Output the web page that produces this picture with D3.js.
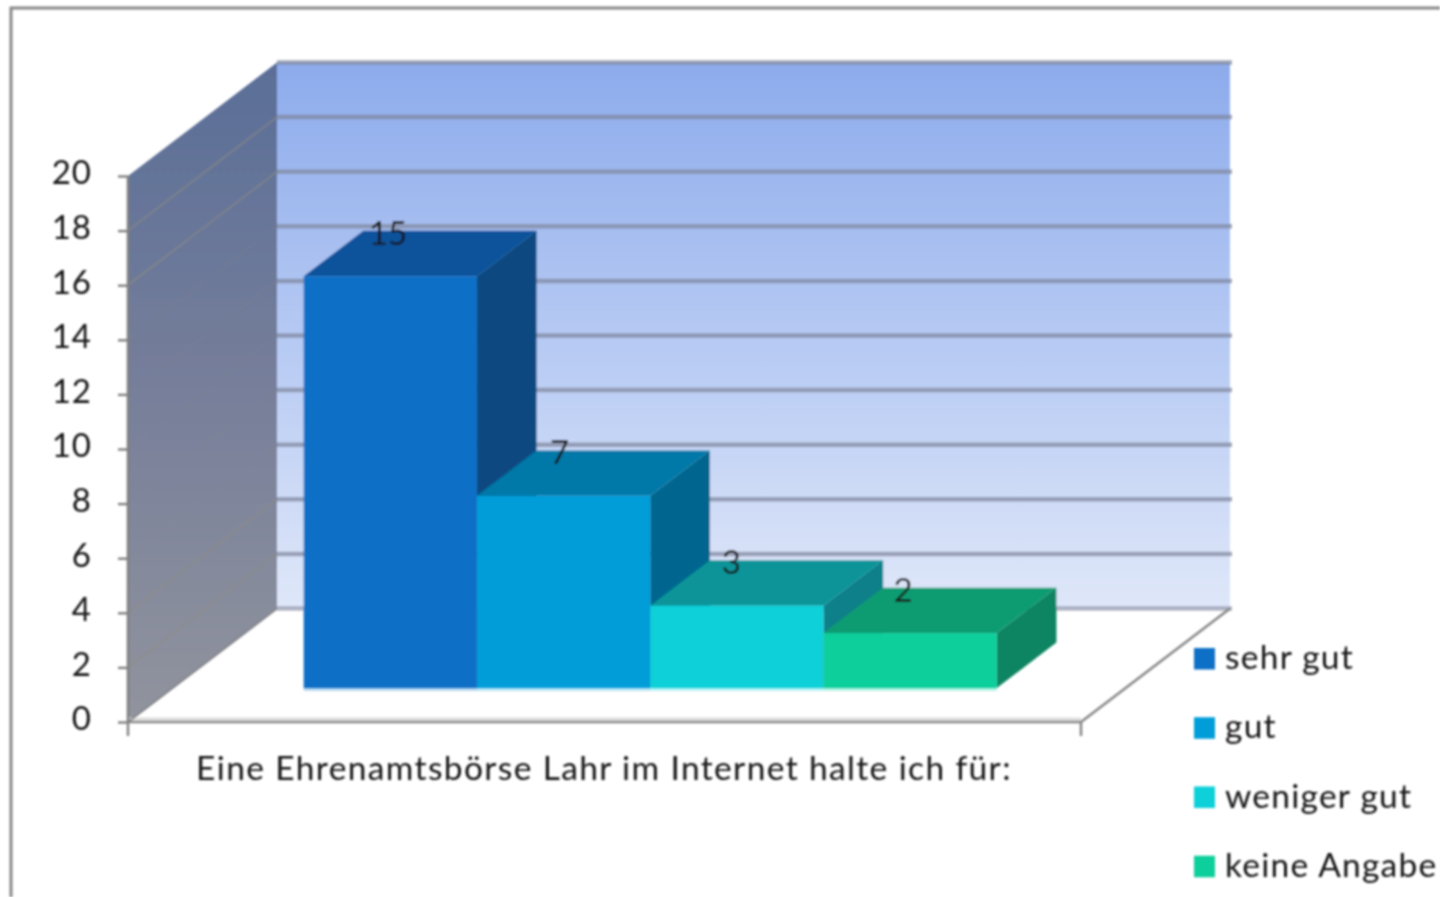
<!DOCTYPE html>
<html><head><meta charset="utf-8">
<script src="https://cdnjs.cloudflare.com/ajax/libs/d3/7.8.5/d3.min.js"></script>
<style>
html,body{margin:0;padding:0;background:#fff;overflow:hidden}
svg{display:block}
text{font-family:Lato,"Open Sans",sans-serif;fill:#151515}
</style></head><body>
<svg id="c" width="1440" height="897"></svg>
<script>
const categories = ["sehr gut","gut","weniger gut","keine Angabe"];
const values = [15,7,3,2];
const frontColors = ["#0F6FC6","#009DD9","#0BD0D9","#10CF9B"];
const topColors = ["#08529B","#0079A8","#079499","#0B9C72"];
const sideColors = ["#0A4A80","#00668F","#088089","#0A8462"];
const yTicks = [0,2,4,6,8,10,12,14,16,18,20];
const axisTitle = "Eine Ehrenamtsbörse Lahr im Internet halte ich für:";

const svg = d3.select("#c");
const defs = svg.append("defs");
const blur = defs.append("filter").attr("id","soft").attr("x","-5%").attr("y","-5%").attr("width","110%").attr("height","110%");
blur.append("feGaussianBlur").attr("stdDeviation",0.8);
const g = svg.append("g").attr("filter","url(#soft)");

const y = d3.scaleLinear().domain([0,20]).range([722,176]);
const yBar = d3.scaleLinear().domain([0,20]).range([688,139]);
const x = d3.scaleBand().domain(categories).range([128,1081]).paddingInner(0).paddingOuter(0.75).align(0.504);
const xLabel = d3.scalePoint().domain(categories).range([388,903]);
const DX = 149, DY = 113.5;
const px = (xv,d)=> xv + DX*d;
const py = (v,d)=> y(v) - DY*d;
const poly = pts => pts.map(p=>p.join(",")).join(" ");

function lin(id,stops){
  const l = defs.append("linearGradient").attr("id",id).attr("x1",0).attr("x2",0).attr("y1",0).attr("y2",1);
  stops.forEach(s=>l.append("stop").attr("offset",s[0]).attr("stop-color",s[1]));
}
lin("wall",[[0,"#8DABEC"],[0.5,"#B5C9F3"],[1,"#DFE7F9"]]);
lin("side",[[0,"#5A6E98"],[0.5,"#777F9A"],[1,"#91949E"]]);

// frame
g.append("path").attr("d",`M11,897V8H1440`).attr("fill","none").attr("stroke","#888").attr("stroke-width",3);

// back wall
const xL = x.range()[0], xR = x.range()[1];
g.append("polygon").attr("points",poly([[px(xL,1),py(20,1)],[px(xR,1),py(20,1)],[px(xR,1),py(0,1)],[px(xL,1),py(0,1)]])).attr("fill","url(#wall)");
// side wall
g.append("polygon").attr("points",poly([[xL,y(20)],[px(xL,1),py(20,1)],[px(xL,1),py(0,1)],[xL,y(0)]])).attr("fill","url(#side)");

// gridlines
g.selectAll("line.back").data(yTicks).join("line").attr("class","back")
  .attr("x1",px(xL,1)).attr("x2",px(xR,1)+2).attr("y1",d=>py(d,1)).attr("y2",d=>py(d,1))
  .attr("stroke","#7f869c").attr("stroke-opacity",d=>d===0?0.6:0.72).attr("stroke-width",4.5);
g.selectAll("line.sideg").data(yTicks.filter(d=>d>0&&d<20)).join("line").attr("class","sideg")
  .attr("x1",xL).attr("x2",px(xL,1)).attr("y1",d=>y(d)).attr("y2",d=>py(d,1))
  .attr("stroke","#8f8d80").attr("stroke-opacity",d=>(d>=10&&d<=14)||d===6||d===8?0.15:0.65).attr("stroke-width",1.5);

// floor edges
g.append("line").attr("x1",xL).attr("x2",xR).attr("y1",y(0)-3).attr("y2",y(0)-3).attr("stroke","#dedede").attr("stroke-width",3);
g.append("polyline").attr("points",poly([[xL,y(0)],[xR,y(0)],[px(xR,1),py(0,1)]])).attr("fill","none").attr("stroke","#888").attr("stroke-width",2.6);
g.append("line").attr("x1",xL).attr("x2",px(xL,1)).attr("y1",y(0)).attr("y2",py(0,1)).attr("stroke","#85858a").attr("stroke-width",2);
g.append("line").attr("x1",xL).attr("x2",xL).attr("y1",y(20)).attr("y2",y(0)).attr("stroke","#808080").attr("stroke-width",2.6);
g.append("line").attr("x1",xR).attr("x2",xR).attr("y1",y(0)).attr("y2",y(0)+14).attr("stroke","#808080").attr("stroke-width",2.4);
g.append("line").attr("x1",xL).attr("x2",xL).attr("y1",y(0)).attr("y2",y(0)+14).attr("stroke","#808080").attr("stroke-width",2.4);

// y axis
const axis = d3.axisLeft(y).tickValues(yTicks).tickSize(10).tickPadding(26).tickFormat(d3.format("d"));
const ag = g.append("g").attr("transform",`translate(${xL},0)`).call(axis);
ag.select(".domain").remove();
ag.selectAll(".tick line").attr("stroke","#808080").attr("stroke-width",2.4);
ag.selectAll(".tick text").attr("font-family",null).style("font-size","33px").style("letter-spacing","1px").attr("fill","#151515").attr("dy","0.24em");

// bars, drawn left to right so each one overlaps its left neighbour's side face
const D0 = 0.3, D1 = 0.7;
const bx = (xv,d)=> xv + DX*d;
const by = (v,d)=> yBar(v) - DY*(d-D0);
const bars = g.selectAll("g.bar").data(categories.map((c,i)=>({c,i,v:values[i]}))).join("g").attr("class","bar");
bars.append("polygon").attr("fill",d=>sideColors[d.i]).attr("points",d=>{
  const r = x(d.c)+x.bandwidth();
  return poly([[bx(r,D0),by(d.v,D0)],[bx(r,D1),by(d.v,D1)],[bx(r,D1),by(0,D1)],[bx(r,D0),by(0,D0)]]);
});
bars.append("polygon").attr("fill",d=>topColors[d.i]).attr("points",d=>{
  const l = x(d.c), r = l+x.bandwidth();
  return poly([[bx(l,D0),by(d.v,D0)],[bx(r,D0),by(d.v,D0)],[bx(r,D1),by(d.v,D1)],[bx(l,D1),by(d.v,D1)]]);
});
bars.append("rect").attr("fill",d=>frontColors[d.i]).attr("fill-opacity",0.28)
  .attr("x",d=>bx(x(d.c),D0)).attr("width",x.bandwidth()).attr("y",by(0,D0)).attr("height",3);
bars.append("rect").attr("fill",d=>frontColors[d.i])
  .attr("x",d=>bx(x(d.c),D0)).attr("width",x.bandwidth())
  .attr("y",d=>by(d.v,D0)).attr("height",d=>yBar(0)-yBar(d.v));

// data labels
g.selectAll("text.lab").data(values).join("text").attr("class","lab")
  .attr("text-anchor","middle").style("font-size","33px")
  .attr("x",(d,i)=>xLabel(categories[i]))
  .attr("y",d=>by(d,D0)-43).attr("dy","0.35em").text(d=>d);

// category axis label
g.append("text").attr("x",604).attr("y",780).attr("text-anchor","middle").style("font-size","33.5px").style("letter-spacing","1.37px").text(axisTitle);

// legend
const leg = d3.scaleBand().domain(categories).range([624,901]);
const lg = g.selectAll("g.leg").data(categories).join("g").attr("class","leg").attr("transform",d=>`translate(1194,${leg(d)})`);
lg.append("rect").attr("y",24).attr("width",21).attr("height",21.5).attr("fill",(d,i)=>frontColors[i]);
lg.append("text").attr("x",31).attr("y",45).style("font-size","33.5px").style("letter-spacing","1.25px").text(d=>d);
</script>
</body></html>
